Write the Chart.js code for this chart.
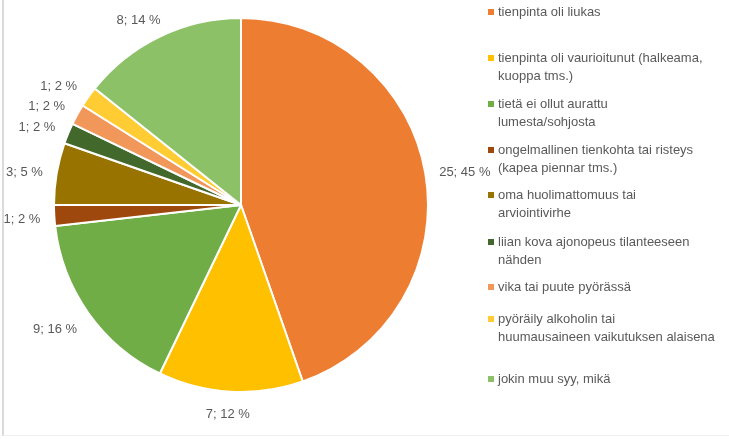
<!DOCTYPE html>
<html>
<head>
<meta charset="utf-8">
<script src="https://cdn.jsdelivr.net/npm/chart.js@4/dist/chart.umd.min.js"></script>
<style>
  html, body { margin: 0; padding: 0; background: #fff; }
  .frame { position: absolute; left: 2px; top: 0; width: 727px; height: 435px;
           border-left: 2px solid #dadada; border-bottom: 1px solid #f0f0f0; }
  canvas { position: absolute; left: 0; top: 0; }
</style>
</head>
<body>
<div class="frame"></div>
<canvas id="pie" width="729" height="439"></canvas>
<script>
const labels = [
  ['tienpinta oli liukas'],
  ['tienpinta oli vaurioitunut (halkeama,', 'kuoppa tms.)'],
  ['tietä ei ollut aurattu', 'lumesta/sohjosta'],
  ['ongelmallinen tienkohta tai risteys', '(kapea piennar tms.)'],
  ['oma huolimattomuus tai', 'arviointivirhe'],
  ['liian kova ajonopeus tilanteeseen', 'nähden'],
  ['vika tai puute pyörässä'],
  ['pyöräily alkoholin tai', 'huumausaineen vaikutuksen alaisena'],
  ['jokin muu syy, mikä']
]
const counts = [25, 7, 9, 1, 3, 1, 1, 1, 8]
const percents = [45, 12, 16, 2, 5, 2, 2, 2, 14]
const colors = ['#ED7D31', '#FFC000', '#70AD47', '#9E480E', '#997300', '#43682B', '#F1975A', '#FFCD33', '#8CC168']

// legend rows (first line of each entry), Excel spreads them unevenly
const legendTops = [12, 58, 104, 150, 195, 242, 287, 319, 379]
const textColor = '#595959'
const font = '13px "Liberation Sans", Arial, sans-serif'

const clamp = v => Math.max(-1, Math.min(1, v))

// value labels just outside each slice, along its middle angle
const outsideLabels = {
  id: 'outsideLabels',
  afterDatasetsDraw(chart) {
    const ctx = chart.ctx
    const meta = chart.getDatasetMeta(0)
    ctx.save()
    ctx.font = font
    ctx.fillStyle = textColor
    ctx.textAlign = 'center'
    ctx.textBaseline = 'middle'
    meta.data.forEach((arc, i) => {
      const p = arc.getProps(['x', 'y', 'startAngle', 'endAngle', 'outerRadius'], true)
      const mid = (p.startAngle + p.endAngle) / 2
      const dx = Math.cos(mid), dy = Math.sin(mid)
      const text = counts[i] + '; ' + percents[i] + ' %'
      const w = ctx.measureText(text).width
      const h = 12
      const d = p.outerRadius + 14
      const x = p.x + dx * d + clamp(dx * 1.6) * w / 2
      const y = p.y + dy * d + clamp(dy * 1.6) * h / 2 + 3
      ctx.fillText(text, x, y)
    })
    ctx.restore()
  }
}

// legend on the right, square marker + wrapped label lines
const sideLegend = {
  id: 'sideLegend',
  afterDraw(chart) {
    const ctx = chart.ctx
    ctx.save()
    ctx.font = font
    ctx.textBaseline = 'middle'
    labels.forEach((lines, i) => {
      const y = legendTops[i]
      ctx.fillStyle = colors[i]
      ctx.fillRect(488, y - 3, 6, 6)
      ctx.fillStyle = textColor
      lines.forEach((line, j) => ctx.fillText(line, 498, y + j * 18.5))
    })
    ctx.restore()
  }
}

new Chart(document.getElementById('pie'), {
  type: 'pie',
  data: {
    labels: labels,
    datasets: [{
      data: counts,
      backgroundColor: colors,
      borderColor: '#ffffff',
      borderWidth: 2
    }]
  },
  options: {
    responsive: false,
    animation: false,
    layout: { padding: { left: 53, right: 300, top: 17, bottom: 46 } },
    plugins: { legend: { display: false }, tooltip: { enabled: false } }
  },
  plugins: [outsideLabels, sideLegend]
})
</script>
</body>
</html>
